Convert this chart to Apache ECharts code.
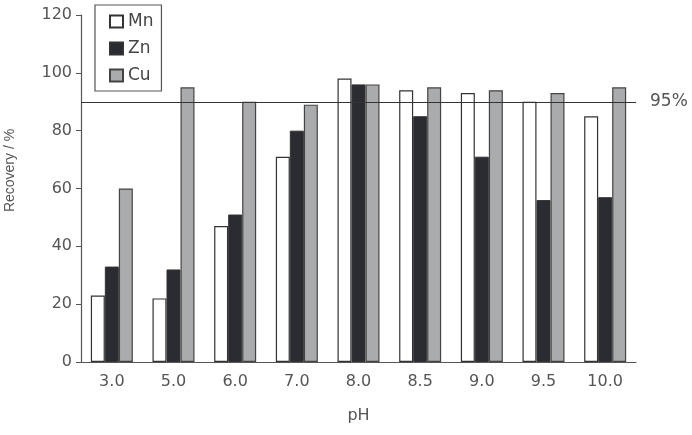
<!DOCTYPE html>
<html>
<head>
<meta charset="utf-8">
<script src="https://cdn.jsdelivr.net/npm/echarts@6/dist/echarts.min.js"></script>
<style>
  html, body { margin: 0; padding: 0; background: #fff; }
  #chart { width: 692px; height: 435px; }
</style>
</head>
<body>
<div id="chart"></div>
<script>
// pH values on the x axis
const phLabels = ['3.0', '5.0', '6.0', '7.0', '8.0', '8.5', '9.0', '9.5', '10.0']
// recovery (%) for each metal
const mnValues = [23, 22, 47, 71, 98, 94, 93, 90, 85]
const znValues = [33, 32, 51, 80, 96, 85, 71, 56, 57]
const cuValues = [60, 95, 90, 89, 96, 95, 94, 93, 95]
const limitValue = 90
const limitLabel = '95%'

const wide = 'DejaVu Sans, sans-serif'
const narrow = 'Liberation Sans, Arial, sans-serif'
const chart = echarts.init(document.getElementById('chart'))

chart.setOption({
  animation: false,
  grid: { left: 81, right: 56, top: 15, bottom: 73, outerBoundsMode: 'none' },
  legend: {
    orient: 'vertical',
    left: 95,
    top: 5,
    padding: [8, 8, 7, 14],
    itemGap: 10,
    itemWidth: 13,
    itemHeight: 12,
    icon: 'rect',
    borderColor: '#555',
    borderWidth: 1.2,
    textStyle: { fontFamily: wide, fontSize: 17, color: '#444' },
    data: ['Mn', 'Zn', 'Cu']
  },
  xAxis: {
    type: 'category',
    data: phLabels,
    name: 'pH',
    nameLocation: 'middle',
    nameGap: 46,
    nameTextStyle: { fontFamily: wide, fontSize: 16, color: '#555' },
    axisLine: { lineStyle: { color: '#555', width: 1.2 } },
    axisTick: { show: false },
    axisLabel: { fontFamily: wide, fontSize: 16, color: '#555', margin: 12 }
  },
  yAxis: {
    type: 'value',
    min: 0,
    max: 120,
    interval: 20,
    name: 'Recovery / %',
    nameLocation: 'middle',
    nameGap: 64,
    nameTextStyle: { fontFamily: narrow, fontSize: 14, color: '#555', padding: [0, 0, 0, 36] },
    axisLine: { show: true, lineStyle: { color: '#555', width: 1.2 } },
    axisTick: { show: true, length: 5, lineStyle: { color: '#555' } },
    axisLabel: { fontFamily: wide, fontSize: 16, color: '#555', margin: 9 },
    splitLine: { show: false }
  },
  series: [
    {
      name: 'Mn',
      type: 'bar',
      data: mnValues,
      barWidth: 14,
      barGap: '0%',
      itemStyle: { color: '#fff', borderColor: '#333', borderWidth: 1.2 },
      markLine: {
        silent: true,
        symbol: 'none',
        data: [{ yAxis: limitValue }],
        lineStyle: { color: '#333', width: 1.2, type: 'solid' },
        label: {
          position: 'end',
          distance: 14,
          formatter: limitLabel,
          fontFamily: wide,
          fontSize: 17,
          color: '#555'
        }
      }
    },
    {
      name: 'Zn',
      type: 'bar',
      data: znValues,
      barWidth: 14,
      barGap: '0%',
      itemStyle: { color: '#2b2c31', borderColor: '#333', borderWidth: 1 }
    },
    {
      name: 'Cu',
      type: 'bar',
      data: cuValues,
      barWidth: 14,
      barGap: '0%',
      itemStyle: { color: '#aaabad', borderColor: '#444', borderWidth: 1.2 }
    }
  ]
})
</script>
</body>
</html>
